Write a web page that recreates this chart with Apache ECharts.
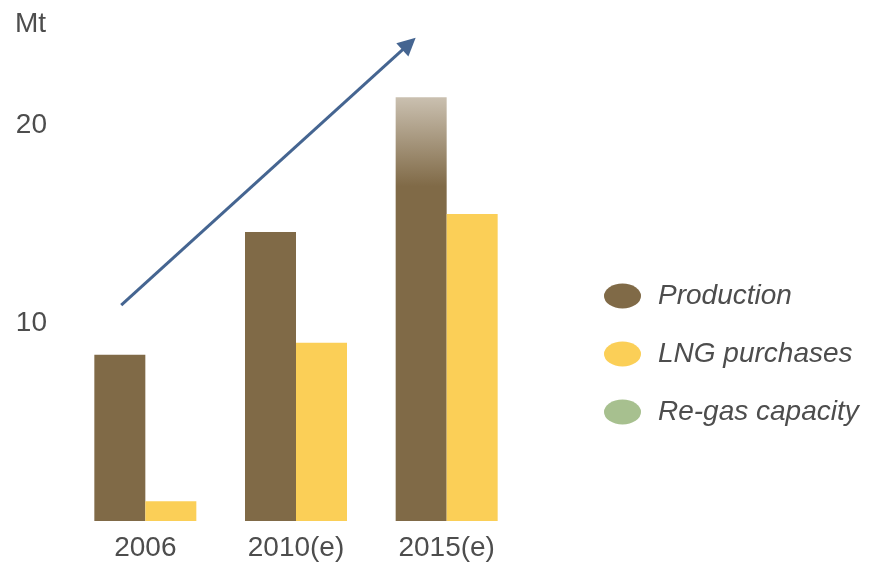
<!DOCTYPE html>
<html>
<head>
<meta charset="utf-8">
<script src="https://cdn.jsdelivr.net/npm/echarts@6/dist/echarts.min.js"></script>
<style>html,body{margin:0;padding:0;background:#fff}#c{width:870px;height:563px}</style>
</head>
<body>
<div id="c"></div>
<script>
const categories = ['2006', '2010(e)', '2015(e)'];
const production = [8.4, 14.6, 21.4];
const lngPurchases = [1.0, 9.0, 15.5];
const regasCapacity = [];
const yTickLabels = [10, 20];
const trendArrow = [[-0.16, 10.9], [1.75, 24.1]];

const textColor = '#4d4d4d';
const font = '"Liberation Sans", Arial, sans-serif';
const ellipse = 'path://M0,12.5 A18.5,12.5 0 1,0 37,12.5 A18.5,12.5 0 1,0 0,12.5 Z';

const chart = echarts.init(document.getElementById('c'));
chart.setOption({
  animation: false,
  textStyle: { fontFamily: font },
  title: { text: 'Mt', left: 15, top: 10, padding: 0, textStyle: { fontSize: 28, fontWeight: 'normal', color: textColor, fontFamily: font } },
  grid: { left: 70, right: 348, top: 26, bottom: 42, containLabel: false },
  legend: {
    orient: 'vertical', left: 599, top: 277,
    itemWidth: 37, itemHeight: 25, itemGap: 30,
    textStyle: { fontSize: 28, fontStyle: 'italic', color: textColor, fontFamily: font, padding: [0, 0, 0, 12] },
    data: [
      { name: 'Production', icon: ellipse },
      { name: 'LNG purchases', icon: ellipse },
      { name: 'Re-gas capacity', icon: ellipse }
    ]
  },
  xAxis: [
    {
      type: 'category', data: categories,
      axisLine: { show: false }, axisTick: { show: false },
      axisLabel: { fontSize: 28, color: textColor, margin: 13, fontFamily: font }
    },
    { type: 'value', min: -0.5, max: 2.5, show: false }
  ],
  yAxis: {
    type: 'value', min: 0, max: 25, interval: 10,
    axisLine: { show: false }, axisTick: { show: false }, splitLine: { show: false },
    axisLabel: {
      fontSize: 28, color: textColor, margin: 23, fontFamily: font, padding: [6, 0, 0, 0],
      formatter: v => yTickLabels.indexOf(v) >= 0 ? String(v) : ''
    }
  },
  series: [
    {
      name: 'Production', type: 'bar', barWidth: 51, barGap: '0%',
      itemStyle: { color: '#806a47' },
      data: production.map((v, i) => i === production.length - 1 ? {
        value: v,
        itemStyle: {
          color: { type: 'linear', x: 0, y: 0, x2: 0, y2: 1, colorStops: [
            { offset: 0, color: '#cac0b0' },
            { offset: 0.21, color: '#806a47' },
            { offset: 1, color: '#806a47' }
          ] }
        }
      } : v)
    },
    {
      name: 'LNG purchases', type: 'bar', barWidth: 51, barGap: '0%',
      itemStyle: { color: '#fbcf57' },
      data: lngPurchases
    },
    {
      name: 'Re-gas capacity', type: 'line', xAxisIndex: 1,
      itemStyle: { color: '#a7c08f' }, lineStyle: { color: '#a7c08f' },
      data: regasCapacity
    },
    {
      name: 'trend', type: 'scatter', xAxisIndex: 1,
      data: [],
      markLine: {
        silent: true, symbol: ['none', 'triangle'], symbolSize: [18, 18],
        label: { show: false },
        lineStyle: { color: '#456591', width: 3, type: 'solid' },
        itemStyle: { color: '#456591' },
        data: [[{ coord: trendArrow[0] }, { coord: trendArrow[1] }]]
      }
    }
  ]
});
</script>
</body>
</html>
